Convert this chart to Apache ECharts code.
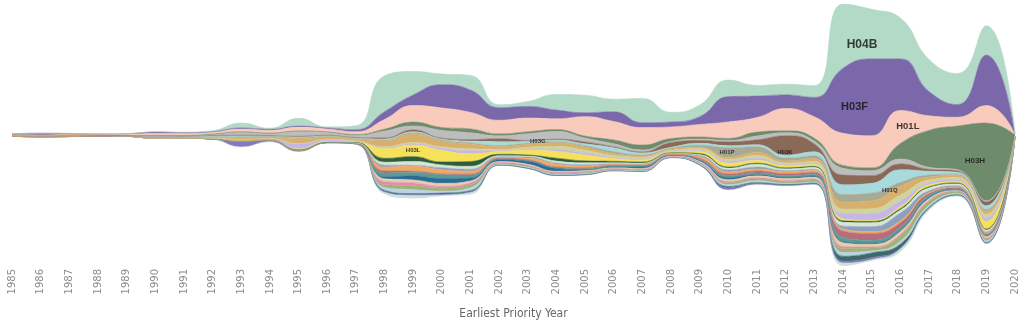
<!DOCTYPE html>
<html><head><meta charset="utf-8">
<script src="https://cdn.jsdelivr.net/npm/echarts@6/dist/echarts.min.js"></script>
<style>html,body{margin:0;padding:0;background:#fff}#c{width:1024px;height:325px}</style>
</head><body><div id="c"></div>
<script>
const years = [1985,1986,1987,1988,1989,1990,1991,1992,1993,1994,1995,1996,1997,1998,1999,2000,2001,2002,2003,2004,2005,2006,2007,2008,2009,2010,2011,2012,2013,2014,2015,2016,2017,2018,2019,2020];

// layer values, listed from the top of the stream to the bottom
const H04B = [0,0,0,0,0,0.3,0.5,1,5,1,8,1,4,37,24,11,15,3,5,16,18,13,25,10,12,17,11,11,12,66,51,42,33,32,30,0.3];
const H03F = [1.2,2,1,0.3,0.5,1.5,1,0.5,1,1,1,1,2,8,11,24,23,13,12,9,4,10,5,5,8,26,22,14,20,67,79,53,25,13,52,0.5];
const H01L = [0,0,0.3,1,1.5,2,2,2,3,3,4,3,3,10,17,20,17,14,14,11,20,19,18,12,13,17,15,23,22,33,33,34,15,9,18,0.5];
const H03H = [0.3,0.2,0.2,0.2,0.2,0.5,0.5,0.5,0.5,0.5,0.5,0.5,1,2,4,3,4,2,2,2,2,4,5,3,2,2,4,2,3,3,3,16,38,45,80,1];
const H03G = [0,0,0,0,0.3,1,0.5,1,3,2,5,3,2,7,4,8,7,3,7,8,4,3,2,1,1.5,1.5,4,3,3,7,5,5,2,1,1,0];
const H03K = [0,0,0,0,0,0.5,0.2,0.3,0.5,0.3,0.5,0.5,0.5,1,2,1,1.5,3,1,1,2,1,1,5,3,4,5,20,8,10,8,6,2,1.5,4,0];
const H01Q = [0.2,0.2,0.2,0,0,0.5,0.5,1,1,0.5,1,0.5,0.5,1,1,1,2,4,2,1.5,2,4,2,1,2,2,2,3,4,10,10,13,4,2,4,0];
const H01P = [0,0,0,0,0,0,0.3,0.3,1,0.3,1,0.5,0.5,1,1,1,1,1,1,1,1.5,2,1,1,2,10,6,3,3,8,8,4,2,1.5,2,0];
const grpTan = [0,0,0,0,0,0,0.3,1,2,2,5,3,2,6,9,6,5,3,3,4,3,2,1.5,1,1.5,2,3,2,3,7,8,9,3,2,3,0];
const grpOlive = [0,0,0,0,0,0,0,0,0,0,0.5,0.3,0.3,1,1,1.5,2,1,2,3,3,2,2,1,2,2,3,2,2,5,5,6,3,2,4,0];
const grpLavender = [0,0,0,0,0,0,0,0.3,1,1,5,1.5,0.5,1,1.5,2,3,1,1,2,2,1,1,0.5,1,2,2,1,1,5,7,6,2,2,3,0];
const H03L = [0,0,0,0,0,0,0,0.5,0,0,1,1,0.5,10,12,12,8,3,5,7,6,3,2,1,2,4,3,2,2,2,1,2,2,1.5,8,0.3];
const grpDarkGreen = [0,0,0,0,0,0,0,0,0,0,0,0,0.5,4,5,3,5,1.5,1,3,2,1.5,1,0.5,1,1,1,1,1,1.5,1.5,1.5,1,1,1,0];
const grpPale = [0,0,0,0,0,0,0,0,0,0,0,0,0,3,4,3,3,1,1,2,2,1,1,0.5,1,2,3,2,2,4,4,3,3,2,2,0];
const grpBlueGray = [1,1.2,1.5,0.8,0.3,0.3,0.2,0.3,0.5,0.3,0.3,0.3,0.3,2,1,2,2,0.5,1,1,1,0.5,0.5,0.5,1,2,2,1,1,3,5,8,2,1,1,0];
const grpOrange = [0,0,0,0,0,0,0,0,0,0,0,0,0.5,4,5,4,3,1,2,3,2,1,1,0.5,2,2,2,2,2,2,2,2,1,1,1,0];
const grpRose = [0,0,0,0,0,0,0,0,0,0,0,0,0,2,1,1,1,0.5,0.5,0.5,1,0.5,0.5,0.3,1,2,2,2,2,7,7,5,2,1,1,0];
const grpTeal = [0,0,0,0,0,0,0,0,0,0,0,0,0,4,4,4,3,1,1,1,1,1,1,0.5,1,2,2,2,2,4,3,3,2,1,1,0];
const grpBlue = [0,0,0,0,0,0,0,0,0,0,0,0,0,2,4,5,3,2,3,3,1,1,1.5,0.5,1,2,1,1,1,1,1,1,1,0.5,0.5,0];
const grpLightTan = [0,0,0,0,0,0,0,0,0,0,0,0,0,3,3,3,2,1,1,1,1,1,1,0.5,1,2,2,2,2,4,3,3,2,1,2,0];
const grpPink = [0,0,0,0,0,0,0,0,0,0,0.5,0,0.5,3,3,2,2,1,1,1,1,0.5,0.5,0.3,0.5,1,1,1,1,2,1,1,1,0.5,0.5,0];
const grpOliveGreen = [0,0,0,0,0,0,0,0,0,0,0,0,0,3,4,3,3,1,1,1,1,1,1,0.5,1,2,2,2,2,4,3,6,4,2,2,0];
const grpLightBlue = [0,0,0,0,0,0,0,0,0,0,0,0,0,3,4,2,3,0.5,1,1,1,0.5,0.5,0.3,1,2,2,1,1,4,2,3,2,1,2,0];
const grpSlate = [0,0,0,0,0,0,0,0,0,0,0,0,0,1,1,1,1,0.3,0.3,0.3,0.3,0.3,0.3,0.3,0.3,1.5,1,1,1,5,5,4,1,0.5,0.5,0];
const grpPurple = [0,0,0,0,0,0,0,0.3,6,2,1,0.5,0.3,1,1,1,1,0,0,0,0,0,0,0,0,2,1,0.5,0.5,2,2,1,0.5,0.5,0,0];
const grpLightMint = [0,0,0,0,0,0,0,0,0,0,0,0,0,2,3,1,2,0,0,0,0,0,0,0,0,0,0,0,0,3,1,3,2,1,1,0];

const layerNames = ['H04B','H03F','H01L','H03H','H03G','H03K','H01Q','H01P','tan','olive','lavender','H03L','darkgreen','pale','bluegray','orange','rose','teal','blue','lighttan','pink','olivegreen','lightblue','slate','purple','lightmint'];
const layerValues = [H04B,H03F,H01L,H03H,H03G,H03K,H01Q,H01P,grpTan,grpOlive,grpLavender,H03L,grpDarkGreen,grpPale,grpBlueGray,grpOrange,grpRose,grpTeal,grpBlue,grpLightTan,grpPink,grpOliveGreen,grpLightBlue,grpSlate,grpPurple,grpLightMint];
const layerColors = ['#b3d9c7','#7a68aa','#f8cbbc','#6e8b6c','#bdbdbd','#8a6a57','#a7dadc','#a8aa95','#d9b06b','#cdd49c','#c6b5e9','#f6e15a','#2d5d3c','#d5e6d2','#8da0c0','#f2a862','#b46e7e','#5d9a96','#2b6c94','#e5d0ab','#e48ab3','#a3b174','#b5d5e5','#3d696b','#8877c0','#c8e5d8'];

// labelled streams and where along the years they are written
const labelNames = ['H04B','H03F','H01L','H03H','H01Q','H03L','H03G','H01P','H03K'];
const labelYears = [2014.66,2014.4,2016.26,2018.6,2015.63,1999.0,2003.35,2009.95,2011.97];
const labelSizes = [12,11,9.5,8,6,6,6,6,6];
const labelShift = [10,8,0,4,10,0,5,0,7];

const n = years.length;
const total = years.map((y,i)=>layerValues.reduce((s,a)=>s+a[i],0));
const maxTotal = Math.max(...total);
const base = total.map(t=>-t/2);

// bottom-up order for stacking
const order = layerNames.map((_,k)=>k).reverse();

function midAt(k, i) {
  let b = base[i];
  for (let j = layerNames.length-1; j > k; j--) b += layerValues[j][i];
  return b + layerValues[k][i]/2;
}
function labelY(name, yr) {
  const k = layerNames.indexOf(name);
  const f = yr - years[0];
  const i0 = Math.max(0, Math.min(n-1, Math.floor(f)));
  const i1 = Math.min(n-1, i0+1);
  const t = f - i0;
  return midAt(k,i0)*(1-t) + midAt(k,i1)*t;
}

const series = [{
  type:'line', stack:'river', stackStrategy:'all', silent:true, smooth:true,
  symbol:'none', lineStyle:{opacity:0, width:0},
  data: base
}];
order.forEach(k=>{
  series.push({
    type:'line', name:layerNames[k], stack:'river', stackStrategy:'all', silent:true, smooth:true,
    symbol:'none', lineStyle:{width:0.6, color:layerColors[k]},
    areaStyle:{color:layerColors[k], opacity:1},
    data: layerValues[k]
  });
});
series.push({
  type:'scatter', silent:true, z:20, symbolSize:0, xAxisIndex:1,
  data: labelNames.map((nm,i)=>({
    name:nm, value:[labelYears[i], labelY(nm, labelYears[i])],
    label:{fontSize:labelSizes[i], offset:[0, labelShift[i]]}
  })),
  label:{show:true, position:'inside', formatter:p=>p.name, color:'#111', fontWeight:'bold', fontFamily:'Liberation Sans, Arial, sans-serif'}
});

const chart = echarts.init(document.getElementById('c'), null, {renderer:'canvas'});
chart.setOption({
  animation:false,
  grid:{left:12, right:9, top:4, bottom:55, containLabel:false},
  xAxis:[{
    type:'category', data:years.map(String), boundaryGap:false,
    axisLine:{show:false}, axisTick:{show:false}, splitLine:{show:false},
    axisLabel:{interval:0, rotate:90, margin:3, color:'#8c8c8c', fontSize:10, fontFamily:'DejaVu Sans'},
    name:'Earliest Priority Year', nameLocation:'middle', nameGap:42,
    nameTextStyle:{color:'#666', fontSize:12, fontFamily:'Liberation Sans Narrow, DejaVu Sans Condensed, sans-serif'}
  },{
    type:'value', min:1985, max:2020, show:false
  }],
  yAxis:{type:'value', min:-maxTotal/2, max:maxTotal/2, show:false},
  series
});
</script>
</body></html>
